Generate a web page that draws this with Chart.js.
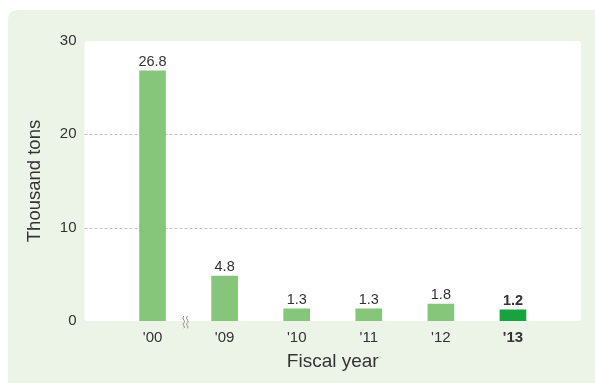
<!DOCTYPE html>
<html>
<head>
<meta charset="utf-8">
<script src="https://cdn.jsdelivr.net/npm/chart.js@4/dist/chart.umd.min.js"></script>
<style>
  html, body { margin: 0; padding: 0; background: #fff; }
  #chart { display: block; }
</style>
</head>
<body>
<canvas id="chart" width="595" height="383"></canvas>
<script>
const years = ["'00", "'09", "'10", "'11", "'12", "'13"];
const tons = [26.8, 4.8, 1.3, 1.3, 1.8, 1.2];
const yTicks = [0, 10, 20, 30];
const gridAt = [10, 20];

const panelColor = "#ecf4e7";
const barColor = "#86c67b";
const lastBarColor = "#17a43e";
const textColor = "#333333";
const fontFamily = "'Liberation Sans', Arial, sans-serif";

const isLast = (i) => i === years.length - 1;

function roundRect(ctx, x, y, w, h, r) {
  ctx.beginPath();
  ctx.moveTo(x + r, y);
  ctx.lineTo(x + w - r, y);
  ctx.quadraticCurveTo(x + w, y, x + w, y + r);
  ctx.lineTo(x + w, y + h - r);
  ctx.quadraticCurveTo(x + w, y + h, x + w - r, y + h);
  ctx.lineTo(x + r, y + h);
  ctx.quadraticCurveTo(x, y + h, x, y + h - r);
  ctx.lineTo(x, y + r);
  ctx.quadraticCurveTo(x, y, x + r, y);
  ctx.closePath();
}

// green panel, white plot box, dashed grid and the axis break mark
const backdrop = {
  id: "backdrop",
  beforeDraw(chart) {
    const { ctx, chartArea: a, scales } = chart;
    ctx.save();
    ctx.fillStyle = panelColor;
    roundRect(ctx, 8, 10, 620, 400, 10);
    ctx.fill();

    const left = a.left - 32;
    const right = a.right + 32;
    ctx.fillStyle = "#ffffff";
    roundRect(ctx, left, a.top, right - left, a.bottom - a.top, 3);
    ctx.fill();

    ctx.strokeStyle = "#c4c4c4";
    ctx.lineWidth = 1;
    ctx.setLineDash([3, 2]);
    gridAt.forEach((v) => {
      const y = Math.round(scales.y.getPixelForValue(v)) + 0.5;
      ctx.beginPath();
      ctx.moveTo(left, y);
      ctx.lineTo(right, y);
      ctx.stroke();
    });
    ctx.restore();
  },
  afterDraw(chart) {
    const { ctx, chartArea: a, scales } = chart;
    const x = (scales.x.getPixelForValue(0) + scales.x.getPixelForValue(1)) / 2 - 3;
    const y = a.bottom + 1;
    ctx.save();
    ctx.strokeStyle = "#8a8a8a";
    ctx.lineWidth = 1;
    [-1.8, 1.8].forEach((dx) => {
      const cx = x + dx;
      ctx.beginPath();
      ctx.moveTo(cx, y - 6);
      ctx.bezierCurveTo(cx - 2.5, y - 3, cx + 2.5, y - 1, cx, y + 1);
      ctx.bezierCurveTo(cx - 2.5, y + 3, cx + 2.5, y + 5, cx, y + 6);
      ctx.stroke();
    });
    ctx.restore();
  },
};

// value written above each bar
const valueLabels = {
  id: "valueLabels",
  afterDatasetsDraw(chart) {
    const { ctx } = chart;
    const meta = chart.getDatasetMeta(0);
    ctx.save();
    ctx.fillStyle = textColor;
    ctx.textAlign = "center";
    ctx.textBaseline = "bottom";
    meta.data.forEach((bar, i) => {
      ctx.font = (isLast(i) ? "bold " : "") + "14.5px " + fontFamily;
      ctx.fillText(tons[i].toFixed(1), bar.x, bar.y - 2);
    });
    ctx.restore();
  },
};

new Chart(document.getElementById("chart"), {
  type: "bar",
  data: {
    labels: years,
    datasets: [
      {
        label: "Thousand tons",
        data: tons,
        backgroundColor: tons.map((v, i) => (isLast(i) ? lastBarColor : barColor)),
        barThickness: 26,
        borderWidth: 0,
      },
    ],
  },
  options: {
    responsive: false,
    animation: false,
    layout: { padding: { top: 34, right: 46, bottom: 0, left: 0 } },
    plugins: {
      legend: { display: false },
      tooltip: { enabled: false },
    },
    scales: {
      x: {
        grid: { display: false },
        border: { display: false },
        ticks: {
          color: textColor,
          padding: 0,
          font: (c) => ({ family: fontFamily, size: 15, weight: c.index === years.length - 1 ? "bold" : "normal" }),
        },
        title: {
          display: true,
          text: "Fiscal year",
          color: textColor,
          font: { family: fontFamily, size: 19 },
          padding: { top: 0, bottom: 10 },
        },
        afterFit: (s) => { s.height = 62; },
      },
      y: {
        min: 0,
        max: 30,
        afterBuildTicks: (s) => { s.ticks = yTicks.map((v) => ({ value: v })); },
        grid: { display: false },
        border: { display: false },
        ticks: {
          color: textColor,
          padding: 32,
          font: { family: fontFamily, size: 15 },
        },
        title: {
          display: true,
          text: "Thousand tons",
          color: textColor,
          font: { family: fontFamily, size: 18.5 },
          padding: { top: 24, bottom: 0 },
        },
        afterFit: (s) => { s.width = 116.5; },
      },
    },
  },
  plugins: [backdrop, valueLabels],
});
</script>
</body>
</html>
